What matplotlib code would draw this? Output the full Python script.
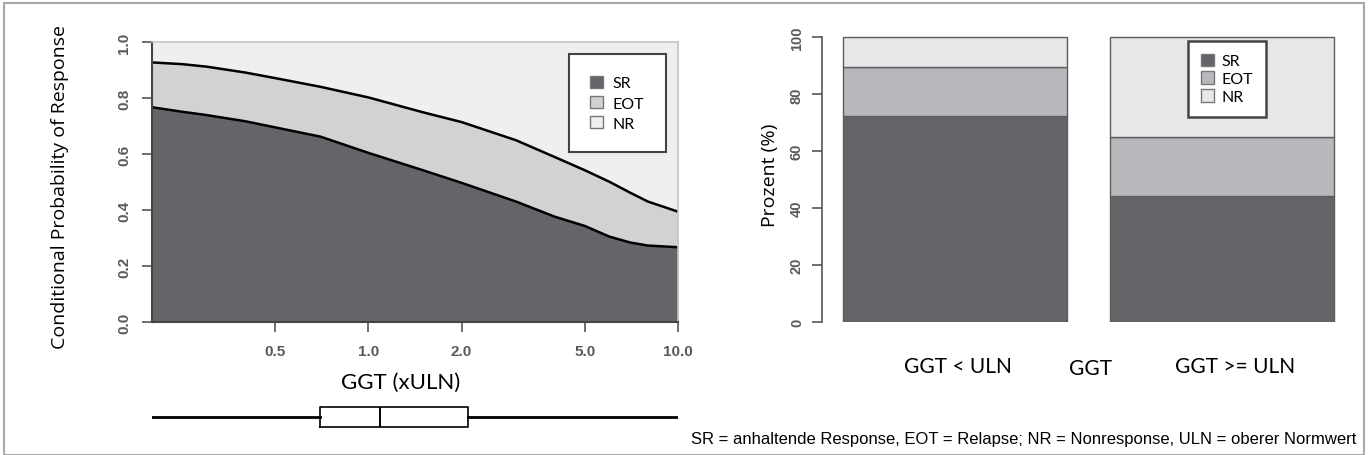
import matplotlib
matplotlib.use("Agg")
import matplotlib.pyplot as plt
from matplotlib.patches import Rectangle, Patch

# Linke Grafik: bedingte Wahrscheinlichkeit ueber GGT (xULN)
ggt = [0.2, 0.25, 0.3, 0.4, 0.5, 0.7, 1.0, 1.5, 2.0, 3.0, 4.0, 5.0, 6.0, 7.0, 8.0, 10.0]
sr_prob = [0.767, 0.751, 0.739, 0.717, 0.695, 0.662, 0.604, 0.542, 0.497, 0.430,
           0.376, 0.343, 0.305, 0.284, 0.273, 0.267]
sr_eot_prob = [0.927, 0.921, 0.912, 0.891, 0.871, 0.840, 0.802, 0.749, 0.714, 0.649,
               0.589, 0.542, 0.501, 0.462, 0.430, 0.394]
x_ticks = [0.5, 1.0, 2.0, 5.0, 10.0]
y_ticks = [0.0, 0.2, 0.4, 0.6, 0.8, 1.0]

# Boxplot der GGT-Verteilung
box_stats = {"whislo": 0.2, "q1": 0.70, "med": 1.09, "q3": 2.09, "whishi": 10.0}

# Rechte Grafik: Prozent je Gruppe
groups = ["GGT < ULN", "GGT >= ULN"]
sr_pct = [72.5, 44.3]
eot_pct = [17.0, 20.7]
nr_pct = [10.5, 35.0]
pct_ticks = [0, 20, 40, 60, 80, 100]

c_sr = "#646569"
c_eot_l, c_nr_l = "#d1d2d4", "#efeff0"
c_eot_r, c_nr_r = "#b6b8bb", "#e6e7e8"
tick_col = "#5a5a5a"

W, H = 1368, 456
fig = plt.figure(figsize=(13.68, 4.56), dpi=100)

def box(x0, y0, x1, y1):
    return [x0 / W, 1 - y1 / H, (x1 - x0) / W, (y1 - y0) / H]

# --- linke Grafik ---
ax = fig.add_axes(box(152, 43, 678, 323))
ax.set_xscale("log")
ax.fill_between(ggt, 0, sr_prob, color=c_sr, lw=0)
ax.fill_between(ggt, sr_prob, sr_eot_prob, color=c_eot_l, lw=0)
ax.fill_between(ggt, sr_eot_prob, 1, color=c_nr_l, lw=0)
ax.plot(ggt, sr_prob, color="black", lw=1.8)
ax.plot(ggt, sr_eot_prob, color="black", lw=1.8)
ax.set_xlim(0.2, 10)
ax.set_ylim(0, 1)
ax.set_xticks(x_ticks)
ax.set_xticklabels(["%.1f" % v for v in x_ticks])
ax.minorticks_off()
ax.set_yticks(y_ticks)
ax.set_yticklabels(["%.1f" % v for v in y_ticks], rotation=90, va="center")
ax.tick_params(axis="both", length=7, width=1.2, color="#555555", labelcolor=tick_col,
               labelsize=11)
ax.tick_params(axis="x", pad=9)
ax.tick_params(axis="y", pad=8)
for lab in ax.get_xticklabels() + ax.get_yticklabels():
    lab.set_fontfamily("Liberation Sans")
    lab.set_fontweight("bold")
for s in ["left", "bottom"]:
    ax.spines[s].set_color("#444444")
    ax.spines[s].set_linewidth(1.5)
for s in ["top", "right"]:
    ax.spines[s].set_color("#c4c4c4")
    ax.spines[s].set_linewidth(1.2)

leg_handles = [Patch(facecolor=c_sr, edgecolor="#777777", label="SR"),
               Patch(facecolor=c_eot_l, edgecolor="#777777", label="EOT"),
               Patch(facecolor=c_nr_l, edgecolor="#777777", label="NR")]
leg = ax.legend(handles=leg_handles, loc="upper right", bbox_to_anchor=(0.977, 0.957),
                borderaxespad=0, fancybox=False, edgecolor="#444444", framealpha=1,
                borderpad=1.35, handlelength=0.8, handleheight=0.8, handletextpad=0.6,
                labelspacing=0.35, prop={"family": "Lato", "size": 11.5})
leg.get_frame().set_linewidth(1.5)

fig.text(60 / W, 1 - 187 / H, "Conditional Probability of Response", rotation=90,
         ha="center", va="center", family="Open Sans", fontsize=14)
fig.text(401 / W, 1 - 383 / H, "GGT (xULN)", ha="center", va="center",
         family="Lato", fontsize=16)

# --- Boxplot unter der linken Grafik ---
bx = fig.add_axes(box(152, 400, 678, 436))
bx.set_xscale("log")
bx.bxp([dict(box_stats, fliers=[])], positions=[0], widths=0.55, orientation="horizontal",
       showcaps=False, showfliers=False,
       boxprops=dict(color="black", lw=1.2),
       whiskerprops=dict(color="black", lw=2.0),
       medianprops=dict(color="black", lw=1.4))
bx.set_xlim(0.2, 10)
bx.set_ylim(-0.5, 0.5)
bx.axis("off")

# --- rechte Grafik ---
ax2 = fig.add_axes(box(822, 37, 1355, 323))
pos = list(range(len(groups)))
bottom_eot = [a for a in sr_pct]
bottom_nr = [a + b for a, b in zip(sr_pct, eot_pct)]
ax2.bar(pos, sr_pct, width=0.84, color=c_sr, edgecolor="#5c5c5c", lw=1.0)
ax2.bar(pos, eot_pct, bottom=bottom_eot, width=0.84, color=c_eot_r, edgecolor="#5c5c5c", lw=1.0)
ax2.bar(pos, nr_pct, bottom=bottom_nr, width=0.84, color=c_nr_r, edgecolor="#5c5c5c", lw=1.0)
ax2.set_xlim(-0.498, 1.5)
ax2.set_ylim(0, 100.5)
ax2.set_yticks(pct_ticks)
ax2.set_yticklabels([str(v) for v in pct_ticks], rotation=90, va="center")
ax2.tick_params(axis="y", length=7, width=1.2, color="#555555", labelcolor=tick_col,
                labelsize=10.5, pad=6)
for lab in ax2.get_yticklabels():
    lab.set_fontfamily("Liberation Sans")
    lab.set_fontweight("bold")
ax2.set_xticks([])
for s in ["top", "right", "bottom"]:
    ax2.spines[s].set_visible(False)
ax2.spines["left"].set_bounds(0, 100)
ax2.spines["left"].set_color("#555555")
ax2.spines["left"].set_linewidth(1.2)

leg_handles2 = [Patch(facecolor=c_sr, edgecolor="#777777", label="SR"),
                Patch(facecolor=c_eot_r, edgecolor="#777777", label="EOT"),
                Patch(facecolor=c_nr_r, edgecolor="#777777", label="NR")]
leg2 = ax2.legend(handles=leg_handles2, loc="upper left", bbox_to_anchor=(0.687, 0.983),
                  borderaxespad=0, fancybox=False, edgecolor="#444444", framealpha=1,
                  borderpad=0.8, handlelength=0.8, handleheight=0.8, handletextpad=0.5,
                  labelspacing=0.2, prop={"family": "Lato", "size": 11.5})
leg2.get_frame().set_linewidth(1.8)

fig.text(770 / W, 1 - 175 / H, "Prozent (%)", rotation=90, ha="center", va="center",
         family="Open Sans", fontsize=14)
fig.text(958 / W, 1 - 367 / H, groups[0], ha="center", va="center", family="Lato", fontsize=15)
fig.text(1090 / W, 1 - 369 / H, "GGT", ha="center", va="center", family="Lato", fontsize=15)
fig.text(1235 / W, 1 - 367 / H, groups[1], ha="center", va="center", family="Lato", fontsize=15)

fig.text(1356 / W, 1 - 440 / H,
         "SR = anhaltende Response, EOT = Relapse; NR = Nonresponse, ULN = oberer Normwert",
         ha="right", va="center", family="Liberation Sans", fontsize=12)

# Rahmen um die ganze Abbildung
fig.patches.append(Rectangle((4 / W, 0), (W - 8) / W, 1 - 4 / H, transform=fig.transFigure,
                             fill=False, edgecolor="#a8a8a8", lw=1.5))

fig.savefig("out.png", dpi=100)
